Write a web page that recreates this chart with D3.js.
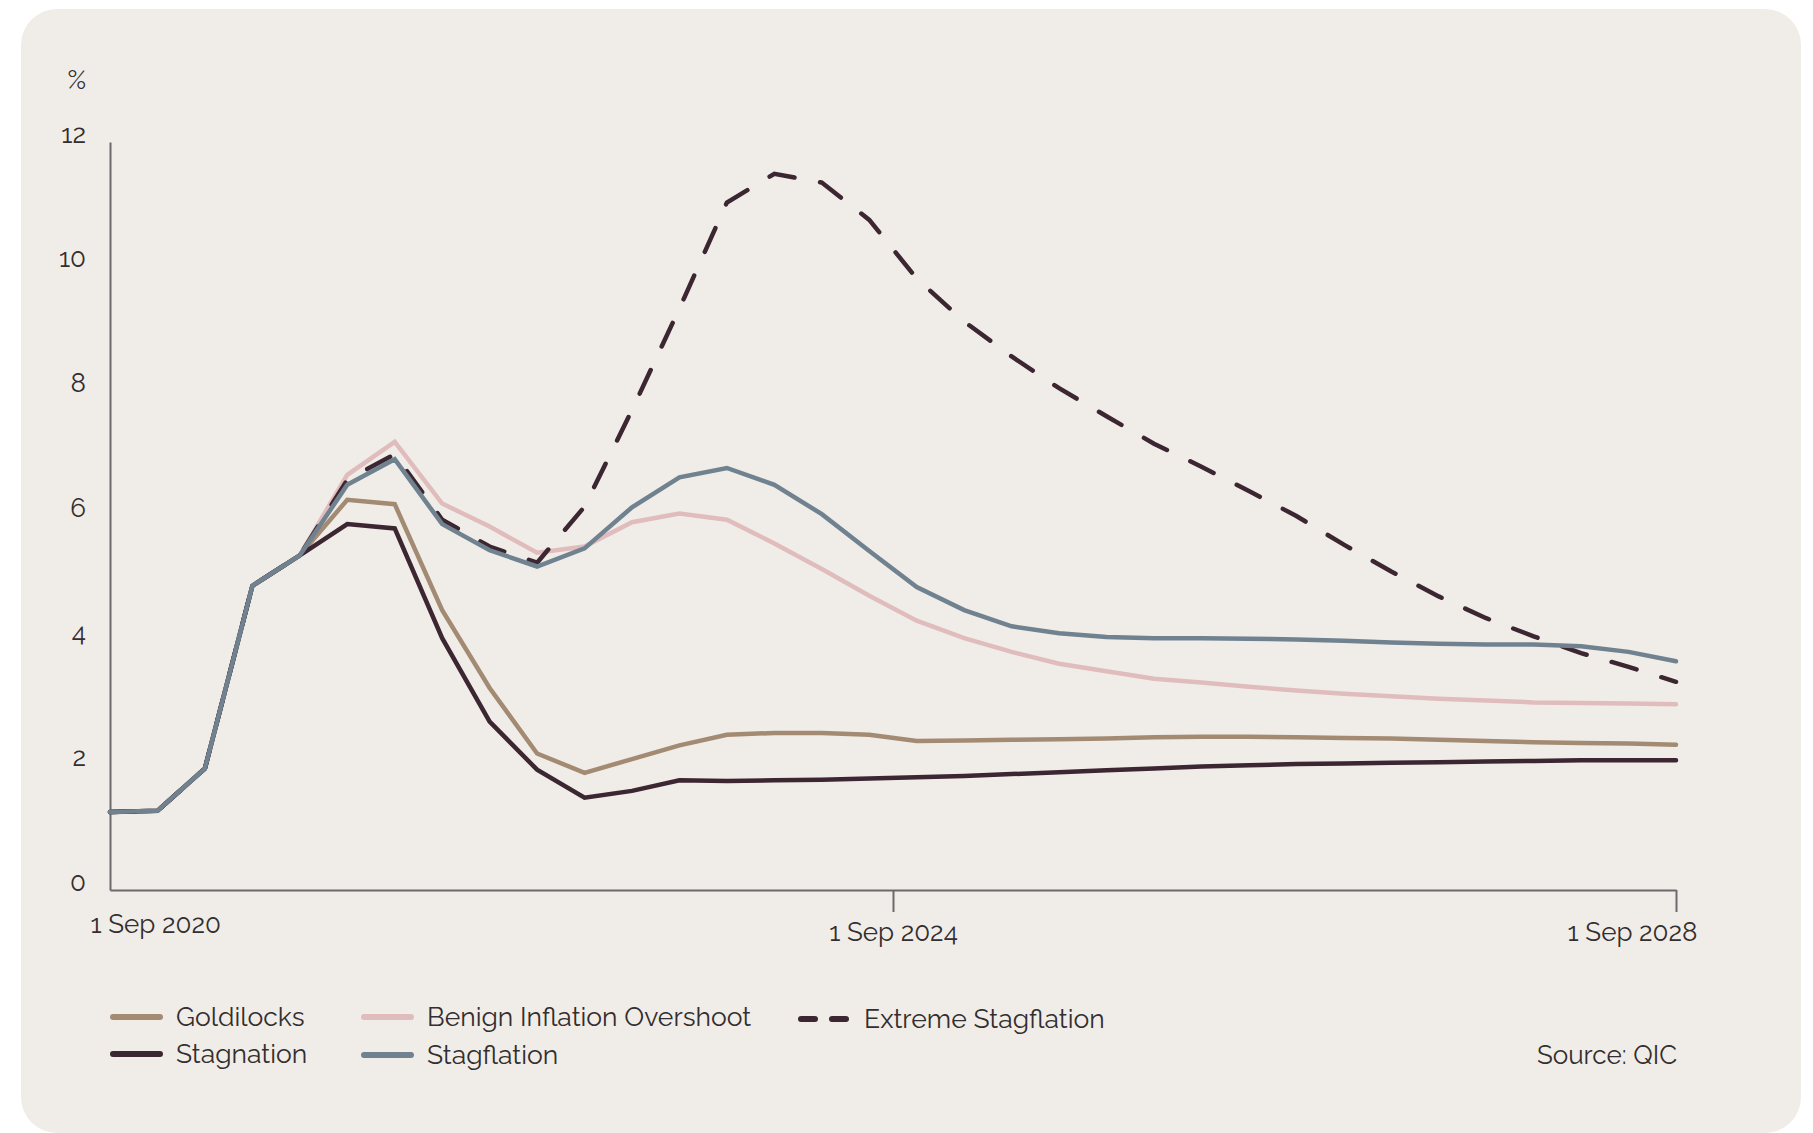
<!DOCTYPE html>
<html>
<head>
<meta charset="utf-8">
<script src="https://cdn.jsdelivr.net/npm/d3@7"></script>
<style>
  body { margin: 0; background: #ffffff; }
  svg text { font-family: Raleway, Lato, sans-serif; fill: #332e2f; }
</style>
</head>
<body>
<div id="chart"></div>
<script>
// quarterly values, Sep 2020 -> Sep 2028 (34 points)
const goldilocks = [1.25, 1.27, 1.95, 4.88, 5.37, 6.26, 6.19, 4.49, 3.24, 2.19, 1.88, 2.10, 2.32, 2.49, 2.52, 2.52, 2.49,
  2.39, 2.40, 2.41, 2.42, 2.43, 2.45, 2.46, 2.46, 2.45, 2.44, 2.43, 2.41, 2.39, 2.37, 2.36, 2.35, 2.33]
const benign = [1.25, 1.27, 1.95, 4.88, 5.37, 6.66, 7.19, 6.20, 5.83, 5.41, 5.51, 5.90, 6.04, 5.94, 5.56, 5.15, 4.72,
  4.32, 4.04, 3.82, 3.63, 3.51, 3.39, 3.33, 3.26, 3.20, 3.15, 3.11, 3.07, 3.04, 3.01, 3.00, 2.99, 2.98]
const extreme = [1.25, 1.27, 1.95, 4.88, 5.37, 6.58, 6.99, 5.94, 5.51, 5.25, 6.15, 7.70, 9.33, 11.03, 11.49, 11.35, 10.75,
  9.81, 9.12, 8.56, 8.05, 7.60, 7.16, 6.79, 6.40, 6.00, 5.54, 5.11, 4.71, 4.36, 4.07, 3.80, 3.58, 3.34]
const stagnation = [1.25, 1.27, 1.95, 4.88, 5.37, 5.87, 5.80, 4.04, 2.70, 1.93, 1.48, 1.59, 1.76, 1.75, 1.76, 1.77, 1.79,
  1.81, 1.83, 1.86, 1.89, 1.92, 1.95, 1.98, 2.00, 2.02, 2.03, 2.04, 2.05, 2.06, 2.07, 2.08, 2.08, 2.08]
const stagflation = [1.25, 1.27, 1.95, 4.88, 5.37, 6.50, 6.91, 5.87, 5.45, 5.19, 5.48, 6.14, 6.62, 6.77, 6.50, 6.03, 5.44,
  4.86, 4.49, 4.23, 4.12, 4.06, 4.04, 4.04, 4.03, 4.02, 4.00, 3.97, 3.95, 3.94, 3.94, 3.91, 3.82, 3.67]

const xTickLabels = ["1 Sep 2020", "1 Sep 2024", "1 Sep 2028"]
const yTicks = [0, 2, 4, 6, 8, 10, 12]

const series = [
  {name: "Goldilocks", values: goldilocks, color: "#a38b73", dash: null, zOrder: 1},
  {name: "Benign Inflation Overshoot", values: benign, color: "#e0bcbd", dash: null, zOrder: 0},
  {name: "Extreme Stagflation", values: extreme, color: "#3b2631", dash: "26,26", zOrder: 3},
  {name: "Stagnation", values: stagnation, color: "#3b2631", dash: null, zOrder: 2},
  {name: "Stagflation", values: stagflation, color: "#708290", dash: null, zOrder: 4}
]

const width = 1813, height = 1133
const margin = {top: 142, right: 137, bottom: 243, left: 110}

const svg = d3.select("#chart").append("svg")
  .attr("width", width)
  .attr("height", height)

// card background
svg.append("rect")
  .attr("x", 21).attr("y", 9)
  .attr("width", 1780).attr("height", 1124)
  .attr("rx", 36)
  .attr("fill", "#f0ede8")

const x = d3.scaleLinear()
  .domain([0, goldilocks.length - 1])
  .range([margin.left, width - margin.right])

const y = d3.scaleLinear()
  .domain([0, 12])
  .range([height - margin.bottom, margin.top])

// y axis
const yAxis = svg.append("g")
  .attr("transform", `translate(${margin.left},0)`)
  .call(d3.axisLeft(y).tickValues(yTicks).tickSize(0).tickPadding(24))
yAxis.select(".domain").attr("stroke", "#6d6869").attr("stroke-width", 2)
yAxis.selectAll("text")
  .attr("dy", 0)
  .style("font-size", "26px")

svg.append("text")
  .attr("x", 86).attr("y", 89)
  .attr("text-anchor", "end")
  .style("font-size", "26px")
  .text("%")

// x axis, ticks at start / middle / end of the period
const xd = x.domain()
const xTickPos = [xd[0], (xd[0] + xd[1]) / 2, xd[1]]
const xAxis = svg.append("g")
  .attr("transform", `translate(0,${height - margin.bottom})`)
  .call(d3.axisBottom(x).tickValues(xTickPos).tickSize(22).tickSizeOuter(0)
    .tickFormat((d, i) => xTickLabels[i]))
xAxis.select(".domain").attr("stroke", "#6d6869").attr("stroke-width", 2)
xAxis.selectAll(".tick line").attr("stroke", "#6d6869").attr("stroke-width", 2)
  .attr("opacity", (d, i) => i === 0 ? 0 : 1)
xAxis.selectAll(".tick text")
  .style("font-size", "26px")
  .attr("dy", 0)
  .attr("y", (d, i) => i === 0 ? 43 : 51)
  .attr("x", (d, i) => i === 0 ? -20 : (i === 2 ? 21 : 0))
  .attr("text-anchor", (d, i) => i === 0 ? "start" : (i === 2 ? "end" : "middle"))

// lines
const line = d3.line()
  .x((d, i) => x(i))
  .y(d => y(d))

svg.append("g")
  .selectAll("path")
  .data(series.slice().sort((a, b) => a.zOrder - b.zOrder))
  .join("path")
  .attr("d", d => line(d.values))
  .attr("fill", "none")
  .attr("stroke", d => d.color)
  .attr("stroke-width", 4.5)
  .attr("stroke-linecap", "round")
  .attr("stroke-linejoin", "miter")
  .attr("stroke-dasharray", d => d.dash)

// legend
const legendPos = [
  {x: 110, y: 1017}, {x: 361, y: 1017}, {x: 798, y: 1019},
  {x: 110, y: 1054}, {x: 361, y: 1055}
]
const legend = svg.append("g")
  .selectAll("g")
  .data(series)
  .join("g")
  .attr("transform", (d, i) => `translate(${legendPos[i].x},${legendPos[i].y})`)

legend.append("line")
  .attr("x1", 3).attr("x2", 50)
  .attr("stroke", d => d.color)
  .attr("stroke-width", 6)
  .attr("stroke-linecap", "round")
  .attr("stroke-dasharray", d => d.dash ? "14,17" : null)

legend.append("text")
  .attr("x", 66)
  .attr("y", 9)
  .style("font-size", "26.5px")
  .text(d => d.name)

svg.append("text")
  .attr("x", 1677).attr("y", 1064)
  .attr("text-anchor", "end")
  .style("font-size", "26px")
  .text("Source: QIC")
</script>
</body>
</html>
